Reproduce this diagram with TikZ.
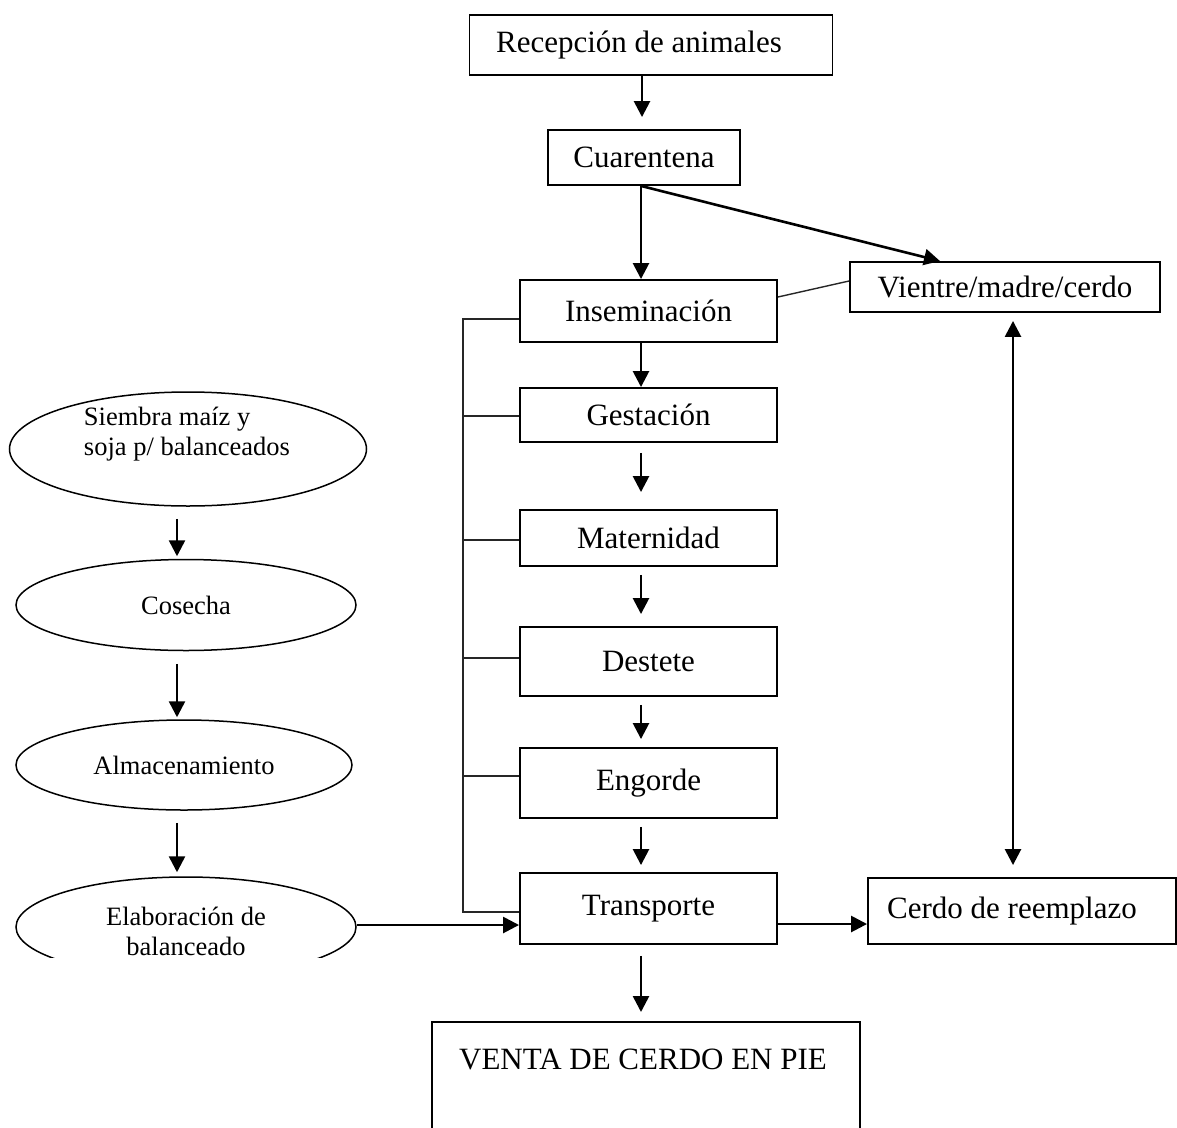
\documentclass[tikz,border=0pt]{standalone}
\usepackage{fontspec}
\setmainfont{Liberation Serif}
\usetikzlibrary{arrows.meta,shapes.geometric,calc}
\begin{document}
\begin{tikzpicture}[x=1pt,y=-1pt,
 box/.style={draw,line width=1.9pt,rectangle,inner sep=0pt,font=\fontsize{31}{36}\selectfont},
 ell/.style={draw,line width=1.5pt,ellipse,inner sep=0pt},
 etxt/.style={font=\fontsize{26.5}{30}\selectfont,inner sep=0pt},
 arr/.style={line width=2.6pt,-{Triangle[length=16pt,width=16pt]}},
 darr/.style={line width=2.6pt,{Triangle[length=16pt,width=16pt]}-{Triangle[length=16pt,width=16pt]}},
 thinl/.style={line width=1.4pt,black!85}]
\useasboundingbox (0,0) rectangle (1177,1127);
% boxes
\node[box,minimum width=363pt,minimum height=60pt] (rec) at (651,45) {\hspace*{-24pt}Recepción de animales};
\node[box,minimum width=192pt,minimum height=55pt] (cua) at (644,157.5) {Cuarentena};
\node[box,minimum width=257pt,minimum height=62pt] (ins) at (648.5,311) {Inseminación};
\node[box,minimum width=257pt,minimum height=54pt] (ges) at (648.5,415) {Gestación};
\node[box,minimum width=257pt,minimum height=56pt] (mat) at (648.5,538) {Maternidad};
\node[box,minimum width=257pt,minimum height=69pt] (des) at (648.5,661.5) {Destete};
\node[box,minimum width=257pt,minimum height=70pt] (eng) at (648.5,783) {Engorde};
\node[box,minimum width=257pt,minimum height=71pt] (tra) at (648.5,908.5) {Transporte};
\node[box,minimum width=310pt,minimum height=50pt] (vie) at (1005,287) {Vientre/madre/cerdo};
\node[box,minimum width=308pt,minimum height=66pt] (cer) at (1022,911) {\hspace*{-20pt}Cerdo de reemplazo};
\draw[line width=1.9pt] (432,1130) -- (432,1022) -- (860,1022) -- (860,1130);
\node[font=\fontsize{31}{36}\selectfont,inner sep=0pt] (venta) at (643,1059) {VENTA DE CERDO EN PIE};
\coordinate (vtop) at (641,1012);
% ellipses
\node[ell,minimum width=357pt,minimum height=114pt] (sie) at (188,449) {};
\node[etxt,align=left] (sietxt) at (187,434) {Siembra maíz y\\soja p/ balanceados};
\node[ell,minimum width=340pt,minimum height=91pt] (cos) at (186,605) {};
\node[etxt] at (cos) {Cosecha};
\node[ell,minimum width=336pt,minimum height=90pt] (alm) at (184,765) {};
\node[etxt] at (alm) {Almacenamiento};
\begin{scope}
\clip (0,860) rectangle (420,957);
\node[ell,minimum width=340pt,minimum height=100pt] (ela) at (186,927) {};
\node[etxt,align=center] (elatxt) at (186,931) {Elaboración de\\balanceado};
\end{scope}
% main column arrows
\draw[arr] ($(rec.south)+(-9,0)$) -- ($(cua.north)+(-2,-12)$);
\draw[arr] ($(cua.south)+(-3,0)$) -- ($(ins.north)+(-7.5,0)$);
\draw[arr] ($(cua.south)+(-3,0)$) -- ($(vie.north)+(-65,0)$);
\draw[thinl] ($(ins.east)+(0,-14)$) -- ($(vie.west)+(0,-6)$);
\draw[arr] ($(ins.south)+(-7.5,0)$) -- ($(ges.north)+(-7.5,0)$);
\draw[arr] ($(ges.south)+(-7.5,10)$) -- ($(mat.north)+(-7.5,-17)$);
\draw[arr] ($(mat.south)+(-7.5,8)$) -- ($(des.north)+(-7.5,-12)$);
\draw[arr] ($(des.south)+(-7.5,8)$) -- ($(eng.north)+(-7.5,-8)$);
\draw[arr] ($(eng.south)+(-7.5,8)$) -- ($(tra.north)+(-7.5,-7)$);
\draw[arr] ($(tra.south)+(-7.5,11)$) -- (vtop);
\draw[arr] ($(tra.east)+(0,15.5)$) -- ($(cer.west)+(0,13)$);
\draw[darr] ($(vie.south)+(8,8)$) -- ($(cer.north)+(-9,-12)$);
% bracket
\coordinate (bt) at (463,319);
\coordinate (bb) at (463,912);
\draw[thinl] (ins.west |- bt) -- (bt) -- (bb) -- (tra.west |- bb);
\draw[thinl] ($(ges.west)+(0,1)$) -- +(-57,0);
\draw[thinl] ($(mat.west)+(0,2)$) -- +(-57,0);
\draw[thinl] ($(des.west)+(0,-3.5)$) -- +(-57,0);
\draw[thinl] ($(eng.west)+(0,-7)$) -- +(-57,0);
% left column arrows
\draw[arr] ($(sie.south)+(-11,12)$) -- ($(cos.north)+(-9,-2.5)$);
\draw[arr] ($(cos.south)+(-9,12.5)$) -- ($(alm.north)+(-7,-2)$);
\draw[arr] ($(alm.south)+(-7,12)$) -- ($(ela.north)+(-9,-4)$);
\draw[arr] ($(ela.east)+(0,-2)$) -- ($(tra.west)+(0,16.5)$);
\end{tikzpicture}
\end{document}
